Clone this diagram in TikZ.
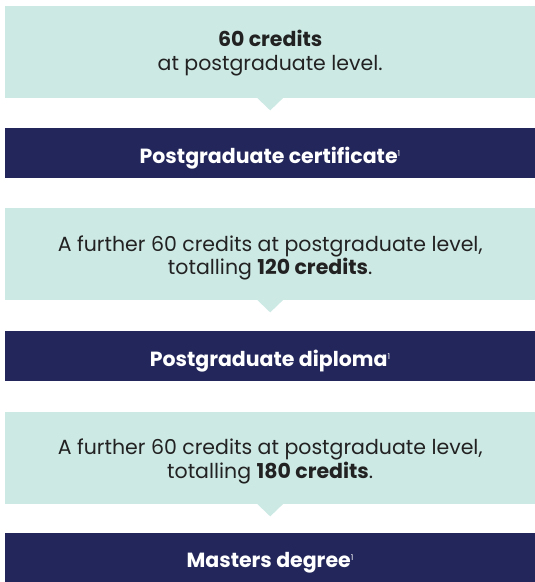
\documentclass[tikz,border=0pt]{standalone}
\usepackage{fontspec}
\setmainfont{Poppins}
\definecolor{lightbox}{HTML}{CDE9E4}
\definecolor{darkbox}{HTML}{22265A}
\definecolor{bodytext}{HTML}{222222}
\begin{document}
\begin{tikzpicture}[x=1pt,y=-1pt,
  lightstep/.style={fill=lightbox, inner sep=0pt, minimum width=530pt, minimum height=92pt, anchor=north west},
  darkstep/.style={fill=darkbox, inner sep=0pt, minimum width=530pt, minimum height=50pt, anchor=north west},
  lighttext/.style={inner sep=0pt, align=center, text=bodytext, font=\fontsize{20.5}{23.5}\selectfont},
  darktext/.style={inner sep=0pt, align=center, text=white, font=\fontsize{20.5}{24}\selectfont\bfseries},
  pointer/.style={fill=lightbox}]
\useasboundingbox (0,0) rectangle (535,582);
\newcommand{\fnmark}{\textsuperscript{\fontsize{8}{8}\selectfont\mdseries 1}}
\node[lightstep] (l1) at (5,6) {};
\node[darkstep] (d1) at (5,128) {};
\node[lightstep] (l2) at (5,208) {};
\node[darkstep] (d2) at (5,331) {};
\node[lightstep] (l3) at (5,412) {};
\node[darkstep] (d3) at (5,533) {};
\foreach \n in {l1,l2,l3}{
  \fill[pointer] ([xshift=-13pt,yshift=0.5pt]\n.south) -- ([xshift=13pt,yshift=0.5pt]\n.south) -- ([yshift=-12pt]\n.south) -- cycle;
}
\node[lighttext] (t1) at ([yshift=-1pt]l1.center) {\textbf{60 credits}\\at postgraduate level.};
\node[darktext] (u1) at ([yshift=-5pt]d1.center) {Postgraduate certificate\fnmark};
\node[lighttext] (t2) at ([yshift=-3.5pt]l2.center) {A further 60 credits at postgraduate level,\\totalling \textbf{120 credits}.};
\node[darktext] (u2) at ([yshift=-5pt]d2.center) {Postgraduate diploma\fnmark};
\node[lighttext] (t3) at ([yshift=-3pt]l3.center) {A further 60 credits at postgraduate level,\\totalling \textbf{180 credits}.};
\node[darktext] (u3) at ([yshift=-5pt]d3.center) {Masters degree\fnmark};
\end{tikzpicture}
\end{document}
